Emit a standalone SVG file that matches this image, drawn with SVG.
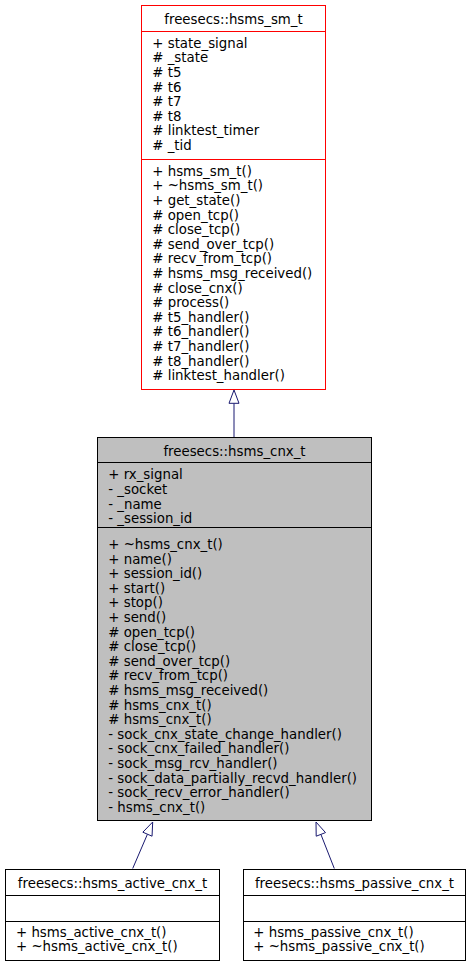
<svg xmlns="http://www.w3.org/2000/svg" width="472" height="965" viewBox="0 0 472 965">
<style>
text{font-family:"DejaVu Sans","Liberation Sans",sans-serif;font-size:13.33px;fill:#000}
.t{text-anchor:middle}
.box{fill:#fff;stroke:#000;stroke-width:1}
.red{fill:#fff;stroke:#ff0000;stroke-width:1}
.grey{fill:#bfbfbf;stroke:#000;stroke-width:1}
.sep{stroke:#000;stroke-width:1}
.sepr{stroke:#ff0000;stroke-width:1}
.edge{stroke:#191970;stroke-width:1;fill:none}
.head{stroke:#191970;stroke-width:1;fill:#fff}
</style>
<rect width="472" height="965" fill="#fff"/>
<g id="connectors">
<line class="edge" x1="234" y1="437" x2="234" y2="403.3"/>
<polygon class="head" points="234,390 239,403.3 229,403.3"/>
<line class="edge" x1="132.7" y1="868.5" x2="147.45" y2="834.2"/>
<polygon class="head" points="152.7,822 152.05,836.2 142.85,832.2"/>
<line class="edge" x1="334.3" y1="868.5" x2="320.9" y2="834.4"/>
<polygon class="head" points="316,822 325.5,832.6 316.2,836.2"/>
</g>
<g id="hsms_sm_t">
<rect class="red" x="141.5" y="5.5" width="184" height="384"/>
<line class="sepr" x1="141.5" y1="31.5" x2="325.5" y2="31.5"/>
<line class="sepr" x1="141.5" y1="159.5" x2="325.5" y2="159.5"/>
<text class="t" x="233.5" y="23.5">freesecs::hsms_sm_t</text>
<text x="152.3" y="47.7">+ state_signal</text>
<text x="152.3" y="62.3"># _state</text>
<text x="152.3" y="76.9"># t5</text>
<text x="152.3" y="91.5"># t6</text>
<text x="152.3" y="106.1"># t7</text>
<text x="152.3" y="120.7"># t8</text>
<text x="152.3" y="135.3"># linktest_timer</text>
<text x="152.3" y="149.9"># _tid</text>
<text x="152.3" y="175.7">+ hsms_sm_t()</text>
<text x="152.3" y="190.3">+ ~hsms_sm_t()</text>
<text x="152.3" y="204.9">+ get_state()</text>
<text x="152.3" y="219.5"># open_tcp()</text>
<text x="152.3" y="234.1"># close_tcp()</text>
<text x="152.3" y="248.7"># send_over_tcp()</text>
<text x="152.3" y="263.3"># recv_from_tcp()</text>
<text x="152.3" y="277.9"># hsms_msg_received()</text>
<text x="152.3" y="292.5"># close_cnx()</text>
<text x="152.3" y="307.1"># process()</text>
<text x="152.3" y="321.7"># t5_handler()</text>
<text x="152.3" y="336.3"># t6_handler()</text>
<text x="152.3" y="350.9"># t7_handler()</text>
<text x="152.3" y="365.5"># t8_handler()</text>
<text x="152.3" y="380.1"># linktest_handler()</text>
</g>
<g id="hsms_cnx_t">
<rect class="grey" x="97.5" y="437.5" width="274" height="383"/>
<line class="sep" x1="97.5" y1="462.5" x2="371.5" y2="462.5"/>
<line class="sep" x1="97.5" y1="527.5" x2="371.5" y2="527.5"/>
<text class="t" x="234.5" y="455.5">freesecs::hsms_cnx_t</text>
<text x="108.3" y="479.3">+ rx_signal</text>
<text x="108.3" y="493.9">- _socket</text>
<text x="108.3" y="508.5">- _name</text>
<text x="108.3" y="523.1">- _session_id</text>
<text x="108.3" y="549">+ ~hsms_cnx_t()</text>
<text x="108.3" y="563.6">+ name()</text>
<text x="108.3" y="578.2">+ session_id()</text>
<text x="108.3" y="592.8">+ start()</text>
<text x="108.3" y="607.4">+ stop()</text>
<text x="108.3" y="622">+ send()</text>
<text x="108.3" y="636.6"># open_tcp()</text>
<text x="108.3" y="651.2"># close_tcp()</text>
<text x="108.3" y="665.8"># send_over_tcp()</text>
<text x="108.3" y="680.4"># recv_from_tcp()</text>
<text x="108.3" y="695"># hsms_msg_received()</text>
<text x="108.3" y="709.6"># hsms_cnx_t()</text>
<text x="108.3" y="724.2"># hsms_cnx_t()</text>
<text x="108.3" y="738.8">- sock_cnx_state_change_handler()</text>
<text x="108.3" y="753.4">- sock_cnx_failed_handler()</text>
<text x="108.3" y="768">- sock_msg_rcv_handler()</text>
<text x="108.3" y="782.6">- sock_data_partially_recvd_handler()</text>
<text x="108.3" y="797.2">- sock_recv_error_handler()</text>
<text x="108.3" y="811.8">- hsms_cnx_t()</text>
</g>
<g id="hsms_active_cnx_t">
<rect class="box" x="5.5" y="869.5" width="214" height="91"/>
<line class="sep" x1="5.5" y1="895.5" x2="219.5" y2="895.5"/>
<line class="sep" x1="5.5" y1="921.5" x2="219.5" y2="921.5"/>
<text class="t" x="112.5" y="887.7">freesecs::hsms_active_cnx_t</text>
<text x="16" y="936.7">+ hsms_active_cnx_t()</text>
<text x="16" y="951.3">+ ~hsms_active_cnx_t()</text>
</g>
<g id="hsms_passive_cnx_t">
<rect class="box" x="243.5" y="869.5" width="222" height="91"/>
<line class="sep" x1="243.5" y1="895.5" x2="465.5" y2="895.5"/>
<line class="sep" x1="243.5" y1="921.5" x2="465.5" y2="921.5"/>
<text class="t" x="354.5" y="887.7">freesecs::hsms_passive_cnx_t</text>
<text x="253.3" y="936.7">+ hsms_passive_cnx_t()</text>
<text x="253.3" y="951.3">+ ~hsms_passive_cnx_t()</text>
</g>
</svg>
